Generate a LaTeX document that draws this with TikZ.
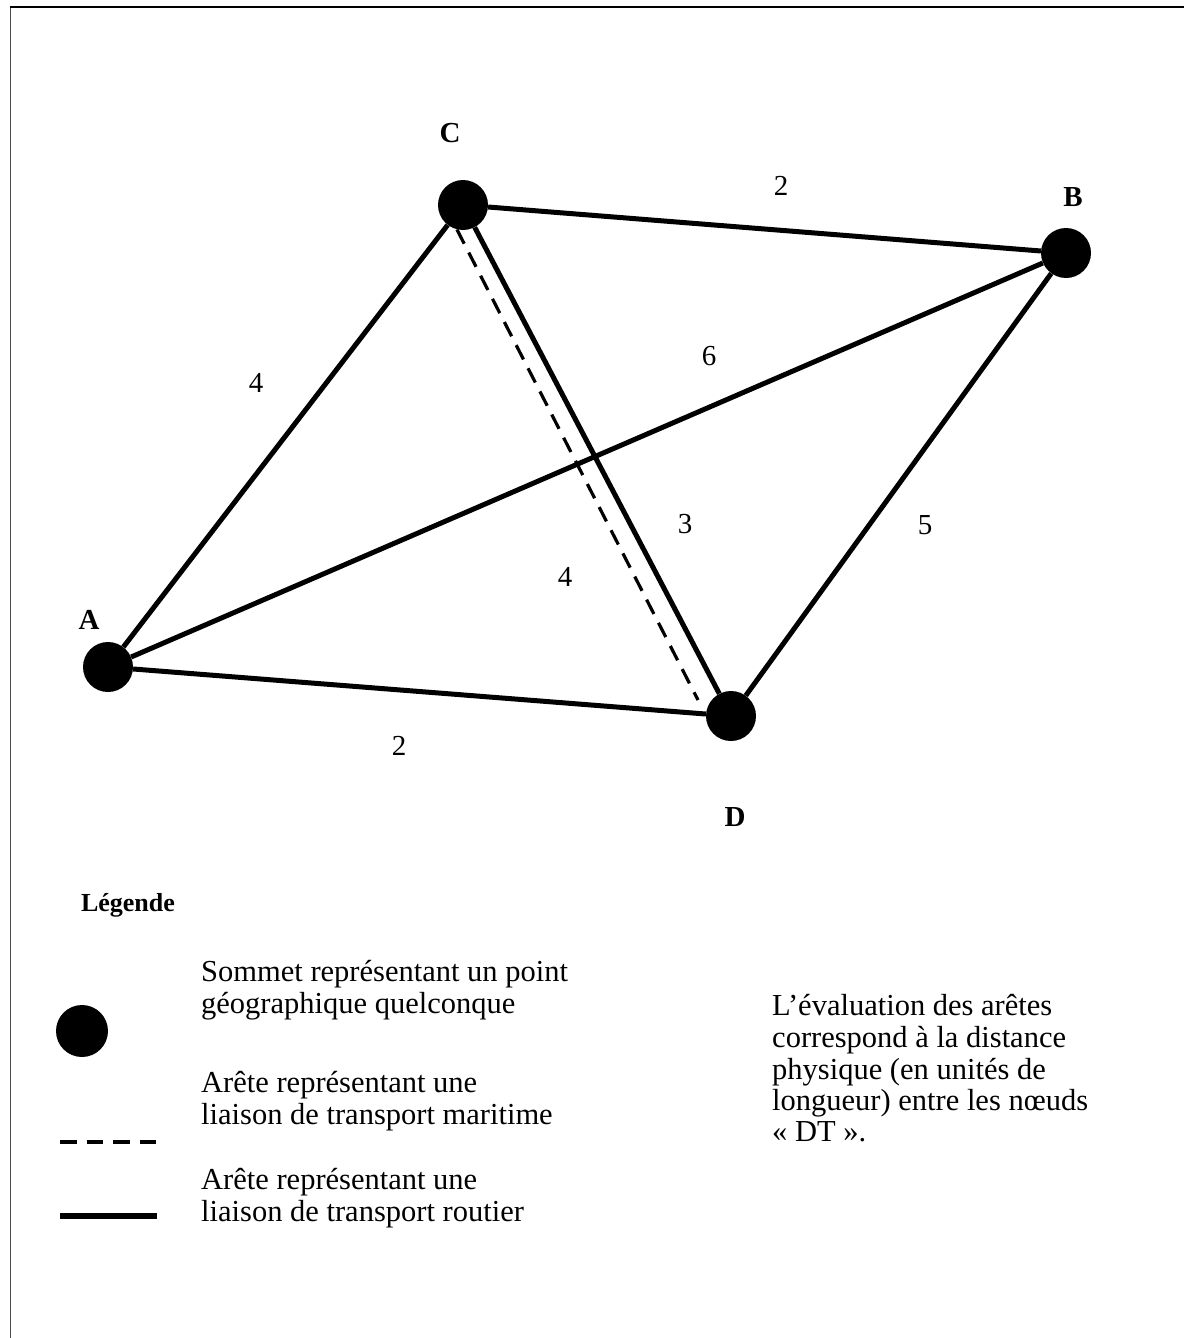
\documentclass[tikz,border=0pt]{standalone}
\usepackage{fontspec}
\setmainfont{Liberation Serif}
\begin{document}
\begin{tikzpicture}[x=1pt,y=-1pt,
  vertex/.style={circle,fill=black,inner sep=0pt,minimum size=50pt},
  road/.style={line width=5pt,black},
  sea/.style={line width=3.2pt,black,dash pattern=on 16pt off 10pt},
  vlabel/.style={font=\fontsize{29}{31}\selectfont\bfseries,anchor=center},
  elabel/.style={font=\fontsize{29}{31}\selectfont,anchor=center},
  legtext/.style={font=\fontsize{30.5}{32}\selectfont,anchor=base west,inner sep=0pt}]
\useasboundingbox (0,0) rectangle (1184,1338);
% frame
\draw[line width=1.6pt,black!70] (10.5,7) -- (10.5,1338);
\draw[line width=1.6pt,black] (10,7) -- (1184,7);
% vertices
\node[vertex] (C) at (463,205) {};
\node[vertex] (B) at (1066,253) {};
\node[vertex] (A) at (108,667) {};
\node[vertex] (D) at (731,716) {};
\coordinate (Dsea) at (698,700);
% edges
\draw[road] (C) -- (B);
\draw[road] (A) -- (C);
\draw[road] (C) -- (D);
\draw[road] (A) -- (B);
\draw[road] (A) -- (D);
\draw[road] (B) -- (D);
\draw[sea] (C.256) -- (Dsea);
% vertex labels
\node[vlabel] (lC) at (450,133) {C};
\node[vlabel] (lB) at (1073,197) {B};
\node[vlabel] (lA) at (89,620) {A};
\node[vlabel] (lD) at (735,817) {D};
% edge labels
\node[elabel] (eCB) at (781,186) {2};
\node[elabel] (eAC) at (256,383) {4};
\node[elabel] (eAB) at (709,356) {6};
\node[elabel] (eCD) at (685,524) {3};
\node[elabel] (eCDs) at (565,577) {4};
\node[elabel] (eBD) at (925,525) {5};
\node[elabel] (eAD) at (399,746) {2};
% legend
\node[font=\fontsize{26}{28}\selectfont\bfseries,anchor=center] (leg) at (128,905) {Légende};
\node[circle,fill=black,inner sep=0pt,minimum size=52pt] (legV) at (82,1031) {};
\node[legtext] (t1a) at (201,981) {Sommet représentant un point};
\node[legtext] (t1b) at (201,1013) {géographique quelconque};
\coordinate (s1) at (60,1142);
\coordinate (s2) at (157,1142);
\draw[line width=4pt,dash pattern=on 16.5pt off 10pt] (s1) -- (s2);
\node[legtext] (t2a) at (201,1092) {Arête représentant une};
\node[legtext] (t2b) at (201,1124) {liaison de transport maritime};
\coordinate (r1) at (60,1216);
\coordinate (r2) at (157,1216);
\draw[line width=6pt] (r1) -- (r2);
\node[legtext] (t3a) at (201,1189) {Arête représentant une};
\node[legtext] (t3b) at (201,1221) {liaison de transport routier};
% note
\node[legtext] (n1) at (772,1015) {L’évaluation des arêtes};
\node[legtext] (n2) at (772,1047) {correspond à la distance};
\node[legtext] (n3) at (772,1079) {physique (en unités de};
\node[legtext] (n4) at (772,1110) {longueur) entre les nœuds};
\node[legtext] (n5) at (772,1141) {«~DT~».};
\end{tikzpicture}
\end{document}
